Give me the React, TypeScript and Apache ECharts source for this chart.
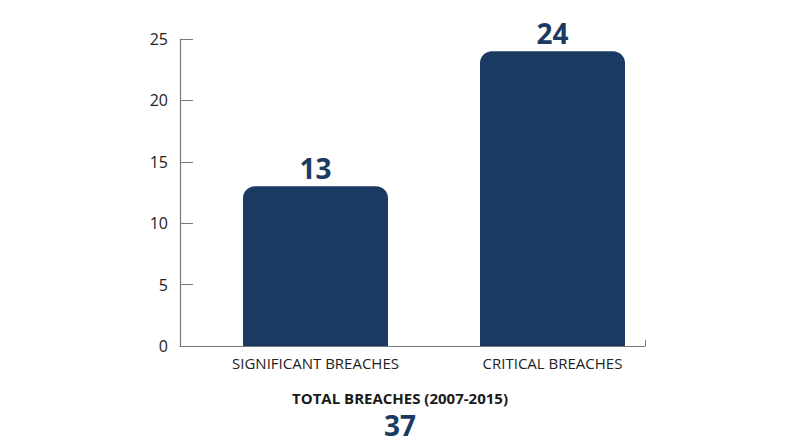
import React, { useEffect, useRef } from 'react';
import * as echarts from 'echarts';

// 数据
const categories = ['SIGNIFICANT BREACHES', 'CRITICAL BREACHES'];
const breaches = [13, 24];
const totalLabel = 'TOTAL BREACHES (2007-2015)';
const totalValue = '37';

const NAVY = '#1b3a61';
const FONT = '"Open Sans", "Noto Sans", sans-serif';

const App: React.FC = () => {
  const chartRef = useRef<HTMLDivElement>(null);

  useEffect(() => {
    if (!chartRef.current) return;
    const chart = echarts.init(chartRef.current, undefined, { renderer: 'svg' });

    chart.setOption({
      animation: false,
      backgroundColor: '#ffffff',
      textStyle: { fontFamily: FONT },
      title: [
        {
          text: totalLabel,
          left: 'center',
          top: 384,
          textStyle: { fontSize: 15, fontWeight: 'bold', color: '#1a1a1a', fontFamily: FONT, lineHeight: 18 },
        },
        {
          text: totalValue,
          left: 'center',
          top: 405,
          textStyle: { fontSize: 28, fontWeight: 'bold', color: NAVY, fontFamily: FONT, lineHeight: 30 },
        },
      ],
      grid: [
        // 坐标轴
        { left: 180, right: 155, top: 39, bottom: 101 },
        // 柱子
        { left: 197, width: 474, top: 39, bottom: 101 },
      ],
      xAxis: [
        {
          gridIndex: 0,
          type: 'value',
          min: 0,
          max: 1,
          interval: 1,
          axisLine: { show: true, lineStyle: { color: '#777', width: 1.2 } },
          axisTick: { show: true, inside: true, length: 6, lineStyle: { color: '#777' } },
          axisLabel: { show: false },
          splitLine: { show: false },
        },
        {
          gridIndex: 1,
          type: 'category',
          data: categories,
          axisLine: { show: false },
          axisTick: { show: false },
          axisLabel: { color: '#222', fontSize: 15, margin: 9, fontFamily: FONT },
        },
      ],
      yAxis: [
        {
          gridIndex: 0,
          type: 'value',
          min: 0,
          max: 25,
          interval: 5,
          axisLine: { show: true, lineStyle: { color: '#777', width: 1.2 } },
          axisTick: { show: true, inside: true, length: 13, lineStyle: { color: '#777' } },
          axisLabel: { color: '#222', fontSize: 16, margin: 12, fontFamily: FONT },
          splitLine: { show: false },
        },
        {
          gridIndex: 1,
          type: 'value',
          min: 0,
          max: 25,
          show: false,
        },
      ],
      series: [
        {
          type: 'bar',
          xAxisIndex: 1,
          yAxisIndex: 1,
          data: breaches,
          barWidth: 145,
          itemStyle: { color: NAVY, borderRadius: [12, 12, 0, 0] },
          label: {
            show: true,
            position: 'top',
            distance: 4,
            color: NAVY,
            fontSize: 28,
            fontWeight: 'bold',
            fontFamily: FONT,
          },
        },
      ],
    });

    return () => {
      chart.dispose();
    };
  }, []);

  return (
    <div
      ref={chartRef}
      style={{ position: 'absolute', left: 0, top: 0, width: 800, height: 447 }}
    />
  );
};

export default App;
